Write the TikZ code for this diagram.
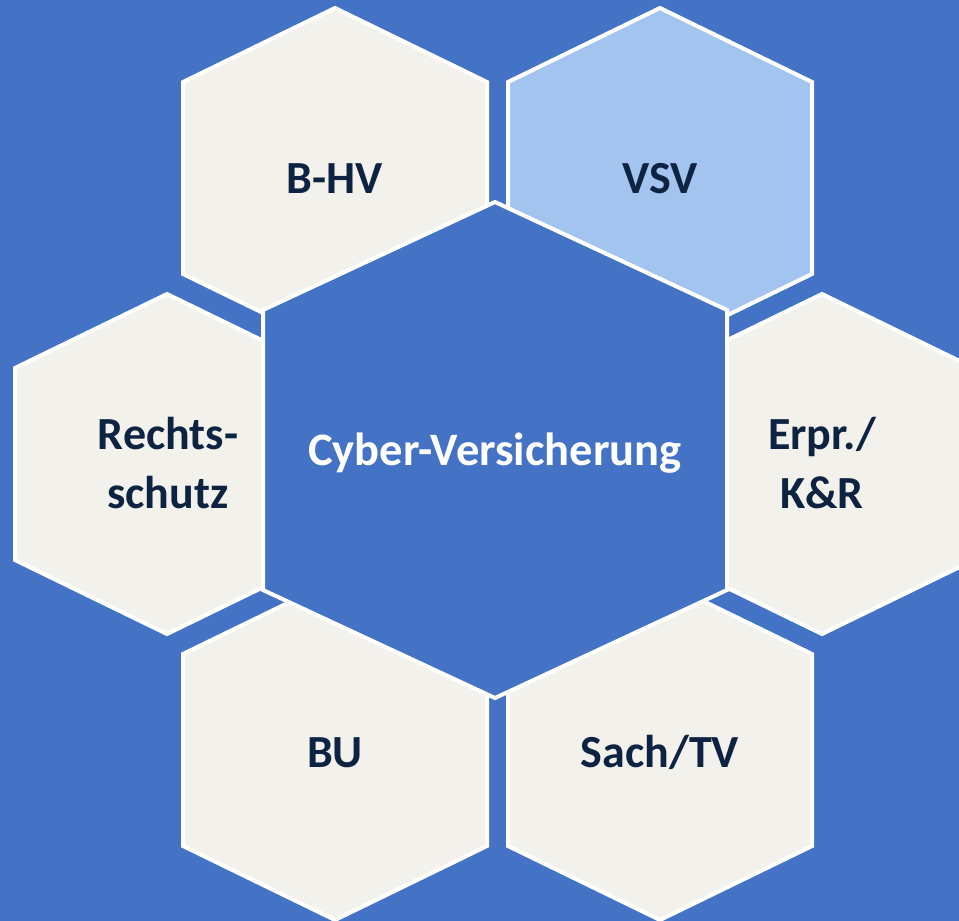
\documentclass[tikz,border=0pt]{standalone}
\usepackage{fontspec}
\setmainfont{Carlito}
\definecolor{bgblue}{HTML}{4472C4}
\definecolor{hexlight}{HTML}{F2F1EB}
\definecolor{hexsky}{HTML}{A2C4EE}
\definecolor{navytext}{HTML}{0D2341}
\tikzset{
  outerhex/.style={fill=hexlight, draw=white, line width=4pt, line join=miter},
  skyhex/.style={fill=hexsky, draw=white, line width=4pt, line join=miter},
  centerhex/.style={fill=bgblue, draw=white, line width=4pt, line join=miter},
  lbl/.style={font=\fontsize{46}{59}\selectfont\bfseries, text=navytext, align=center, inner sep=0pt},
  clbl/.style={font=\fontsize{46.5}{59}\selectfont\bfseries, text=white, align=center, inner sep=0pt}
}
\newcommand\smallhex[3]{\path[#3] (#1,#2) ++(0,-170) -- ++(152,74) -- ++(0,192) -- ++(-152,74) -- ++(-152,-74) -- ++(0,-192) -- cycle;}
\begin{document}
\begin{tikzpicture}[x=1pt,y=-1pt]
\useasboundingbox (0,0) rectangle (959,921);
\fill[bgblue] (0,0) rectangle (959,921);
\clip (0,0) rectangle (959,921);
\smallhex{335}{178}{outerhex}
\smallhex{660}{178}{skyhex}
\smallhex{167}{464}{outerhex}
\smallhex{822}{464}{outerhex}
\smallhex{335}{750}{outerhex}
\smallhex{660}{750}{outerhex}
\path[centerhex] (495,450) ++(0,-248) -- ++(232,108) -- ++(0,280) -- ++(-232,108) -- ++(-232,-108) -- ++(0,-280) -- cycle;
\node[lbl, anchor=base] (bhv) at (335,193) {B-HV};
\node[lbl, anchor=base] (vsv) at (660,193) {VSV};
\node[lbl, anchor=base] (rs) at (168,508) {Rechts-\\schutz};
\node[lbl, anchor=base] (ek) at (822,508) {Erpr./\\K\&R};
\node[lbl, anchor=base] (bu) at (335,767) {BU};
\node[lbl, anchor=base] (st) at (660,767) {Sach/TV};
\node[clbl, anchor=base] (cv) at (495,465) {Cyber-Versicherung};
\end{tikzpicture}
\end{document}
